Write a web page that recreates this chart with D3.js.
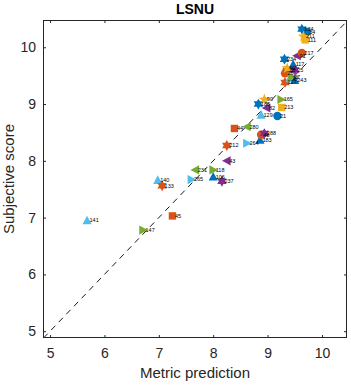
<!DOCTYPE html>
<html>
<head>
<meta charset="utf-8">
<script src="https://cdn.jsdelivr.net/npm/d3@7"></script>
<style>
  body { margin: 0; background: #fff; }
  svg { display: block; font-family: "Liberation Sans", Arial, sans-serif; }
</style>
</head>
<body>
<div id="chart"></div>
<script>
// chart data
const title = "LSNU";
const xLabel = "Metric prediction";
const yLabel = "Subjective score";
const xTicks = [5, 6, 7, 8, 9, 10];
const yTicks = [5, 6, 7, 8, 9, 10];
const xRange = [4.87, 10.46];
const yRange = [4.88, 10.48];

const labels = ["141","147","45","140","133","265","231","118","106","237",
                "43","212","264","183","48","288","44","280","129","21",
                "82","185","90","165","213","127","26","28","92","117",
                "25","24","27","243","234","91","217","134","34","211","111"];
const predicted = [5.68, 6.71, 7.25, 6.98, 7.06, 7.60, 7.67, 8.00, 8.00, 8.16,
                   8.25, 8.25, 8.62, 8.86, 8.88, 8.94, 8.39, 8.62, 8.88, 9.18,
                   8.98, 8.83, 8.94, 9.25, 9.26, 9.32, 9.32, 9.35, 9.36, 9.47,
                   9.50, 9.41, 9.44, 9.50, 9.31, 9.54, 9.63, 9.63, 9.72, 9.66, 9.69];
const subjective = [6.95, 6.78, 7.03, 7.66, 7.56, 7.67, 7.84, 7.84, 7.72, 7.64,
                    8.00, 8.27, 8.31, 8.37, 8.46, 8.48, 8.57, 8.60, 8.81, 8.79,
                    8.93, 9.00, 9.08, 9.08, 8.94, 9.38, 9.54, 9.60, 9.63, 9.70,
                    9.60, 9.45, 9.48, 9.42, 9.79, 9.85, 9.90, 10.32, 10.27, 10.19, 10.13];
// category of each point (colour group, marker group)
const colorGroup = [5, 4, 1, 5, 1, 5, 4, 4, 0, 3,
                    3, 1, 5, 0, 1, 3, 1, 4, 5, 0,
                    3, 0, 2, 4, 2, 1, 1, 1, 2, 0,
                    3, 5, 4, 0, 0, 3, 1, 0, 0, 2, 2];
const markerGroup = ["^", ">", "s", "^", "h", ">", "<", ">", "^", "h",
                     "<", "h", ">", "^", "o", "h", "s", "<", "^", "o",
                     "<", "h", "p", ">", "s", "h", "o", "o", "p", "^",
                     "h", "^", ">", "^", "h", "<", "o", "h", "o", "p", "s"];

const points = labels.map((l, i) => ({
  label: l, x: predicted[i], y: subjective[i], c: colorGroup[i], m: markerGroup[i]
}));

// layout
const W = 351, H = 385;
const margin = {top: 20, right: 4, bottom: 47, left: 43};
const width = W - margin.left - margin.right,
      height = H - margin.top - margin.bottom;

const palette = ["#0072BD", "#D95319", "#EDB120", "#7E2F8E", "#77AC30", "#4DBEEE", "#A2142F"];
const axisColor = "#262626";

// marker shapes, size is used as the radius
function poly(pts) {
  return { draw(ctx, r) {
    pts.forEach((p, i) => i ? ctx.lineTo(p[0]*r, p[1]*r) : ctx.moveTo(p[0]*r, p[1]*r));
    ctx.closePath();
  }};
}
function starPts(n, inner) {
  const pts = [];
  for (let k = 0; k < 2*n; k++) {
    const a = -Math.PI/2 + k*Math.PI/n, rr = k % 2 ? inner : 1;
    pts.push([rr*Math.cos(a), rr*Math.sin(a)]);
  }
  return pts;
}
const triUp = [[0,-1],[0.95,0.8],[-0.95,0.8]];
const shapes = {
  "o": { type: { draw(ctx, r) { ctx.moveTo(r, 0); ctx.arc(0, 0, r, 0, 2*Math.PI); } }, r: 4.2 },
  "s": { type: { draw(ctx, r) { ctx.rect(-r, -r, 2*r, 2*r); } }, r: 3.7 },
  "^": { type: poly(triUp), r: 4.8 },
  ">": { type: poly(triUp.map(([x, y]) => [-y, x])), r: 4.8 },
  "<": { type: poly(triUp.map(([x, y]) => [y, -x])), r: 4.8 },
  "h": { type: poly(starPts(6, 0.577)), r: 5.4 },
  "p": { type: poly(starPts(5, 0.4)), r: 6 }
};

const svg = d3.select("#chart").append("svg")
    .attr("width", W)
    .attr("height", H);
const g = svg.append("g")
    .attr("transform", "translate(" + margin.left + "," + margin.top + ")");

const x = d3.scaleLinear().domain(xRange).range([0, width]);
const y = d3.scaleLinear().domain(yRange).range([height, 0]);

// reference diagonal
const lo = Math.max(xRange[0], yRange[0]), hi = Math.min(xRange[1], yRange[1]);
g.append("line")
    .attr("x1", x(lo)).attr("y1", y(lo))
    .attr("x2", x(hi)).attr("y2", y(hi))
    .attr("stroke", "#000")
    .attr("stroke-width", 0.9)
    .attr("stroke-dasharray", "6,5");

// markers
g.selectAll(".pt")
  .data(points)
  .enter()
  .append("path")
    .attr("class", "pt")
    .attr("transform", d => `translate(${x(d.x)},${y(d.y)})`)
    .attr("d", d => d3.symbol().type(shapes[d.m].type).size(shapes[d.m].r)())
    .attr("fill", d => palette[d.c]);

// point labels
g.selectAll(".lbl")
  .data(points)
  .enter()
  .append("text")
    .attr("class", "lbl")
    .attr("x", d => x(d.x) + 2.5)
    .attr("y", d => y(d.y))
    .attr("dy", "0.35em")
    .attr("font-size", 5.5)
    .attr("fill", "#000")
    .text(d => d.label);

// axes (ticks inward on all four sides)
const fmt = d3.format("d");
function styleAxis(sel) {
  sel.select(".domain").remove();
  sel.selectAll("line").attr("stroke", axisColor);
  sel.selectAll("text").attr("fill", axisColor).attr("font-size", 14)
     .attr("font-family", "\"Liberation Sans\", Arial, sans-serif");
}
g.append("g")
    .attr("transform", "translate(0," + height + ")")
    .call(d3.axisBottom(x).tickValues(xTicks).tickFormat(fmt).tickSizeInner(-3).tickSizeOuter(0).tickPadding(10))
    .call(styleAxis);
g.append("g")
    .call(d3.axisTop(x).tickValues(xTicks).tickSizeInner(-3).tickSizeOuter(0).tickFormat(""))
    .call(styleAxis);
g.append("g")
    .call(d3.axisLeft(y).tickValues(yTicks).tickFormat(fmt).tickSizeInner(-3).tickSizeOuter(0).tickPadding(7))
    .call(styleAxis);
g.append("g")
    .attr("transform", "translate(" + width + ",0)")
    .call(d3.axisRight(y).tickValues(yTicks).tickSizeInner(-3).tickSizeOuter(0).tickFormat(""))
    .call(styleAxis);

// box
g.append("rect")
    .attr("x", 0.5).attr("y", 0.5)
    .attr("width", width - 1).attr("height", height - 1)
    .attr("fill", "none")
    .attr("stroke", axisColor)
    .attr("stroke-width", 1);

// titles
svg.append("text")
    .attr("x", margin.left + width/2)
    .attr("y", 14)
    .attr("text-anchor", "middle")
    .attr("font-size", 14)
    .attr("font-weight", "bold")
    .attr("fill", "#000")
    .text(title);
svg.append("text")
    .attr("x", margin.left + width/2)
    .attr("y", 378)
    .attr("text-anchor", "middle")
    .attr("font-size", 15)
    .attr("fill", axisColor)
    .text(xLabel);
svg.append("text")
    .attr("transform", "translate(14," + (margin.top + height/2) + ") rotate(-90)")
    .attr("text-anchor", "middle")
    .attr("font-size", 15)
    .attr("fill", axisColor)
    .text(yLabel);
</script>
</body>
</html>
